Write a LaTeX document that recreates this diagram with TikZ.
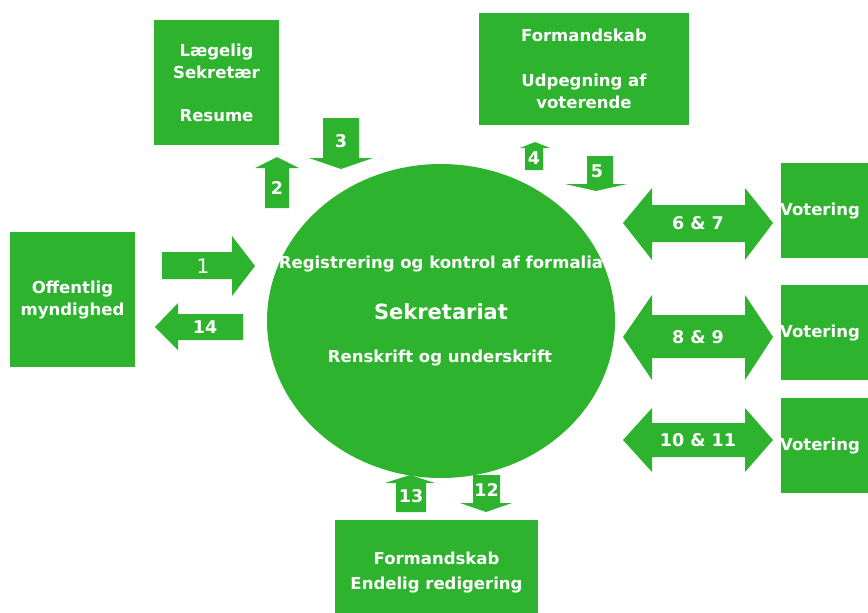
\documentclass[tikz,border=0pt]{standalone}
\usepackage{fontspec}
\setmainfont{DejaVu Sans}
\usetikzlibrary{shapes.geometric}
\definecolor{gr}{RGB}{46,179,46}
\tikzset{
  box/.style={fill=gr, inner sep=0pt},
  lbl/.style={text=white, font=\bfseries\fontsize{16.5}{22}\selectfont, align=center, inner sep=0pt},
  num/.style={text=white, font=\bfseries\fontsize{17.5}{21}\selectfont, inner sep=0pt},
  ablk/.style={fill=gr}
}
\begin{document}
\begin{tikzpicture}[x=1pt,y=-1pt]
\useasboundingbox (0,0) rectangle (868,613);
% boxes
\fill[box] (154,20) rectangle (279,145);
\node[lbl] (laeg) at (216.5,61) {Lægelig\\Sekretær};
\node[lbl] (res) at (216.5,116) {Resume};
\fill[box] (479,13) rectangle (689,125);
\node[lbl] (form1) at (584,35) {Formandskab};
\node[lbl] (udp) at (584,91) {Udpegning af\\voterende};
\fill[box] (10,232) rectangle (135,367);
\node[lbl] (off) at (72.5,300) {Offentlig\\myndighed};
\fill[box] (335,520) rectangle (538,613);
\node[lbl, font=\bfseries\fontsize{16.5}{25}\selectfont] (form2) at (436.5,573) {Formandskab\\Endelig redigering};
\foreach \ya/\yb [count=\i] in {163/258,285/380,398/493}{
  \fill[box] (781,\ya) rectangle (880,\yb);
  \node[lbl, anchor=west] (vot\i) at (780,{(\ya+\yb)/2+1}) {Votering};
}
% ellipse
\node[ellipse, fill=gr, minimum width=348pt, minimum height=314pt, inner sep=0pt] (sek) at (441,321) {};
\node[lbl] (reg) at (441,264) {Registrering og kontrol af formalia};
\node[lbl, font=\bfseries\fontsize{21}{24}\selectfont] (sekt) at (441,312) {Sekretariat};
\node[lbl] (ren) at (440,358) {Renskrift og underskrift};
% arrow 1 (right)
\fill[ablk] (162,252) -- (232,252) -- (232,236) -- (255,266) -- (232,296) -- (232,279) -- (162,279) -- cycle;
\node[text=white, font=\fontsize{20}{24}\selectfont, inner sep=0pt] (a1) at (203,266) {1};
% arrow 14 (left)
\fill[ablk] (243,314) -- (178,314) -- (178,303) -- (155,327) -- (178,350) -- (178,340) -- (243,340) -- cycle;
\node[num] (a14) at (205,327) {14};
% arrow 2 (up)
\fill[ablk] (265,208) -- (265,168) -- (255,168) -- (277,157) -- (299,168) -- (289,168) -- (289,208) -- cycle;
\node[num] (a2) at (277,188) {2};
% arrow 3 (down)
\fill[ablk] (323,118) -- (359,118) -- (359,158) -- (373,158) -- (341,169) -- (309,158) -- (323,158) -- cycle;
\node[num] (a3) at (341,141) {3};
% arrow 4 (up)
\fill[ablk] (525,170) -- (525,148) -- (520,148) -- (535,142) -- (550,148) -- (543,148) -- (543,170) -- cycle;
\node[num] (a4) at (534,158) {4};
% arrow 5 (down)
\fill[ablk] (587,156) -- (613,156) -- (613,184) -- (627,184) -- (596,191) -- (565,184) -- (587,184) -- cycle;
\node[num] (a5) at (597,171) {5};
% double arrows
\foreach \c/\hu/\hl/\bu/\bl/\t [count=\i] in {223/188/260/205/242/{6 \& 7},337/295/380/315/358/{8 \& 9},440/408/472/423/457/{10 \& 11}}{
  \fill[ablk] (623,\c) -- (652,\hu) -- (652,\bu) -- (745,\bu) -- (745,\hu) -- (773,\c) -- (745,\hl) -- (745,\bl) -- (652,\bl) -- (652,\hl) -- cycle;
  \node[num] (d\i) at (698,\c) {\t};
}
% arrow 13 (up)
\fill[ablk] (396,512) -- (396,483) -- (385,483) -- (410,475) -- (435,483) -- (426,483) -- (426,512) -- cycle;
\node[num] (a13) at (411,496) {13};
% arrow 12 (down)
\fill[ablk] (473,475) -- (500,475) -- (500,503) -- (512,503) -- (486,512) -- (460,503) -- (473,503) -- cycle;
\node[num] (a12) at (486.5,490) {12};
\end{tikzpicture}
\end{document}
